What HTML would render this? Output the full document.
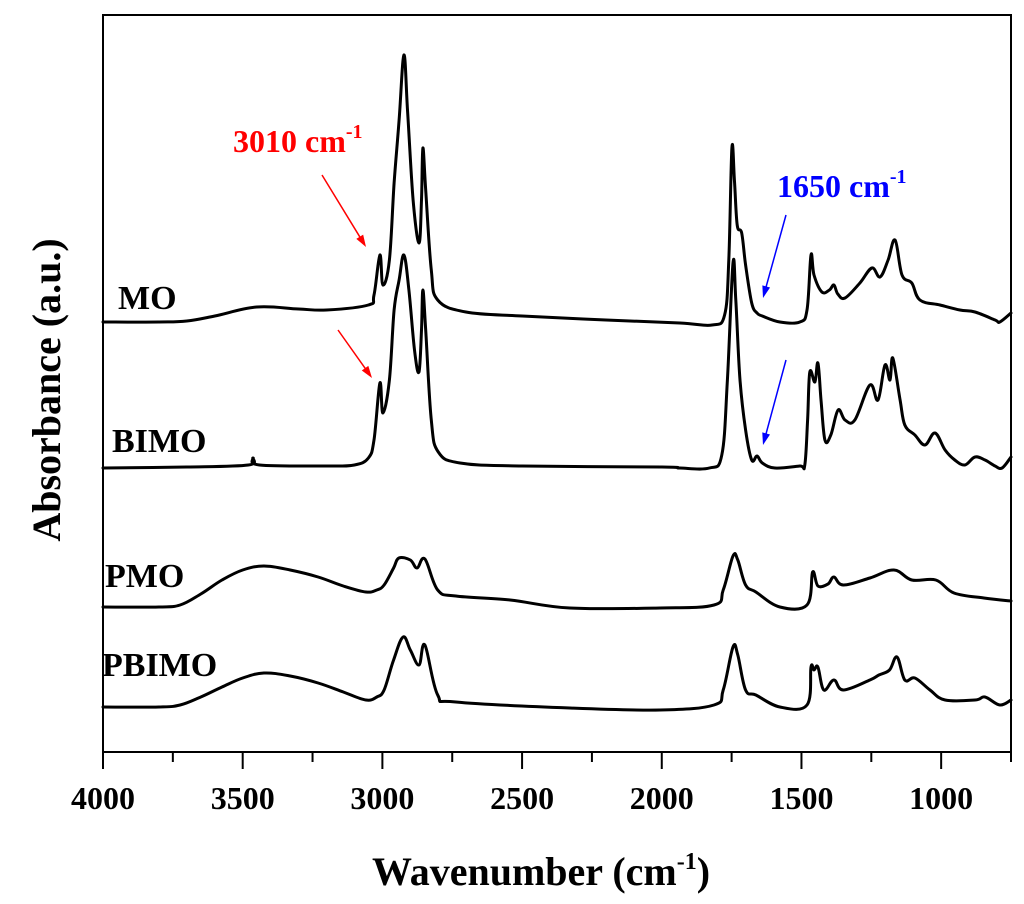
<!DOCTYPE html>
<html><head><meta charset="utf-8"><style>
html,body{margin:0;padding:0;background:#fff}
svg{display:block}
text{font-family:"Liberation Serif",serif;font-weight:bold}
</style></head><body>
<svg id="chart" width="1024" height="904" viewBox="0 0 1024 904" xmlns="http://www.w3.org/2000/svg">
<g id="axes"></g>
<g id="series"></g>
<g id="labels"></g>
</svg>
<script>
const xTicks = [4000, 3500, 3000, 2500, 2000, 1500, 1000];
const xTickLabels = ["4000", "3500", "3000", "2500", "2000", "1500", "1000"];
const seriesNames = ["MO", "BIMO", "PMO", "PBIMO"];
const moW = [4000,3800,3700,3600,3450,3300,3200,3050,3030,3009,2998,2975,2958,2940,2923,2910,2890,2869,2860,2855,2845,2825,2802,2701,2500,2200,1935,1820,1775,1760,1749,1740,1730,1714,1700,1678,1659,1640,1577,1506,1480,1466,1455,1427,1400,1384,1370,1344,1291,1248,1219,1190,1165,1140,1105,1076,1004,933,879,807,790,750];
const moA = [430,430,431,436,445,443,442,447,457,497,467,492,569,632,697,642,552,509,552,604,562,482,452,440,436,432,429,427,437,492,604,572,527,519,487,449,439,436,430,430,442,497,477,460,462,467,458,454,469,484,475,492,512,477,469,452,447,442,440,432,430,439];
const bimoW = [4000,3700,3480,3463,3440,3200,3100,3050,3030,3009,2998,2975,2958,2940,2923,2905,2885,2869,2860,2855,2845,2825,2800,2722,2500,2000,1935,1830,1785,1765,1745,1735,1720,1700,1678,1659,1640,1595,1506,1488,1478,1470,1452,1441,1430,1416,1395,1369,1344,1309,1255,1226,1201,1183,1173,1147,1130,1094,1058,1022,986,951,915,879,843,807,782,750];
const bimoA = [284,285,287,294,287,286,287,294,312,369,339,372,442,472,497,462,402,380,422,462,422,332,300,289,286,285,284,284,297,372,489,452,372,322,292,296,289,284,286,287,332,380,370,389,352,312,317,342,332,332,367,352,387,372,394,352,327,317,307,319,302,292,287,295,292,286,284,295];
const pmoW = [4000,3800,3724,3650,3574,3500,3424,3330,3230,3140,3059,3020,2994,2960,2941,2900,2876,2848,2802,2737,2543,2329,2006,1813,1780,1745,1728,1700,1663,1577,1480,1460,1441,1405,1384,1350,1255,1169,1105,1019,954,847,750];
const pmoA = [145,145,147,158,172,182,186,182,175,166,160,162,167,184,194,192,184,193,162,156,152,144,144,147,162,196,192,167,160,145,147,180,166,168,175,167,174,182,172,172,159,154,151];
const pbimoW = [4000,3800,3724,3650,3574,3500,3424,3330,3230,3140,3059,3020,2994,2960,2926,2900,2869,2848,2802,2737,2329,2006,1813,1780,1745,1728,1700,1663,1577,1480,1466,1455,1441,1420,1384,1350,1255,1223,1185,1158,1130,1094,1040,986,879,843,790,750];
const pbimoA = [45,45,47,55,65,74,79,76,69,60,52,55,62,92,115,102,87,107,57,50,44,42,47,62,105,97,62,57,45,47,85,82,85,62,72,62,72,77,82,95,72,74,62,52,52,55,47,52];

const NS = "http://www.w3.org/2000/svg";
const L = 103, R = 1011, T = 15, B = 752;
const xMin = 750, xMax = 4000, yMin = 0, yMax = 737;
function xs(w){ return L + (xMax - w) / (xMax - xMin) * (R - L); }
function ys(v){ return B - (v - yMin) / (yMax - yMin) * (B - T); }
function mk(tag, attrs, parent){ const e = document.createElementNS(NS, tag); for (const k in attrs) e.setAttribute(k, attrs[k]); parent.appendChild(e); return e; }
function smoothPath(P){
  let d = 'M' + P[0][0].toFixed(1) + ',' + P[0][1].toFixed(1);
  for (let i = 0; i < P.length - 1; i++) {
    const p0 = P[i-1] || P[i], p1 = P[i], p2 = P[i+1], p3 = P[i+2] || P[i+1];
    const t = 0.18;
    const c1x = p1[0] + (p2[0]-p0[0])*t, c1y = p1[1] + (p2[1]-p0[1])*t;
    const c2x = p2[0] - (p3[0]-p1[0])*t, c2y = p2[1] - (p3[1]-p1[1])*t;
    d += ' C' + c1x.toFixed(1)+','+c1y.toFixed(1)+' '+c2x.toFixed(1)+','+c2y.toFixed(1)+' '+p2[0].toFixed(1)+','+p2[1].toFixed(1);
  }
  return d;
}

const axes = document.getElementById('axes');
const frame = mk('rect', {x:L, y:T, width:R-L, height:B-T, fill:'none', stroke:'#000', 'stroke-width':2}, axes);


for (let w = 4000; w >= 750; w -= 250) {
  const major = (w % 500 === 0);
  const t = mk('line', {x1:xs(w), x2:xs(w), y1:B, y2:B + (major ? 17 : 10), stroke:'#000', 'stroke-width':2}, axes);
  
  
}
xTicks.forEach((w, i) => {
  const t = mk('text', {x:xs(w), y:809, 'text-anchor':'middle', 'font-size':32}, axes);
  t.textContent = xTickLabels[i];
  
  
});

const sg = document.getElementById('series');
const allW = [moW, bimoW, pmoW, pbimoW];
const allA = [moA, bimoA, pmoA, pbimoA];
allW.forEach((W, si) => {
  const P = W.map((w, i) => [xs(w), ys(allA[si][i])]);
  const p = mk('path', {d:smoothPath(P), fill:'none', stroke:'#000', 'stroke-width':3, 'stroke-linejoin':'round', 'stroke-linecap':'round'}, sg);
  
  
});
</script>
<script>
(function(){
const NS = "http://www.w3.org/2000/svg";
const lg = document.getElementById('labels');
function mk(tag, attrs){ const e = document.createElementNS(NS, tag); for (const k in attrs) e.setAttribute(k, attrs[k]); lg.appendChild(e); return e; }
const names = [["MO",118,309,"label-mo"],["BIMO",112,452,"label-bimo"],["PMO",105,587,"label-pmo"],["PBIMO",102,676,"label-pbimo"]];
names.forEach(n => {
  const t = mk('text', {x:n[1], y:n[2], 'font-size':34});
  t.textContent = n[0];
  
  
});
const a1 = mk('text', {x:233, y:152, 'font-size':32, fill:'#ff0000'});
a1.innerHTML = '3010 cm<tspan dy="-14" font-size="20">-1</tspan>';


const a2 = mk('text', {x:777, y:197, 'font-size':32, fill:'#0000ff'});
a2.innerHTML = '1650 cm<tspan dy="-14" font-size="20">-1</tspan>';


const arrows = [[322,175,366,247,'#ff0000','arrow-3010-mo'],[338,330,372,378,'#ff0000','arrow-3010-bimo'],[786,215,763,298,'#0000ff','arrow-1650-mo'],[786,360,763,445,'#0000ff','arrow-1650-bimo']];
arrows.forEach(a => {
  const g = mk('g', {});
  
  
  const ln = document.createElementNS(NS, 'line');
  const dx = a[2]-a[0], dy = a[3]-a[1], len = Math.hypot(dx, dy), ux = dx/len, uy = dy/len;
  ln.setAttribute('x1', a[0]); ln.setAttribute('y1', a[1]);
  ln.setAttribute('x2', a[2]-ux*8); ln.setAttribute('y2', a[3]-uy*8);
  ln.setAttribute('stroke', a[4]); ln.setAttribute('stroke-width', 1.5);
  g.appendChild(ln);
  const hd = document.createElementNS(NS, 'polygon');
  const bx = a[2]-ux*12, by = a[3]-uy*12;
  hd.setAttribute('points', a[2]+','+a[3]+' '+(bx-uy*4)+','+(by+ux*4)+' '+(bx+uy*4)+','+(by-ux*4));
  hd.setAttribute('fill', a[4]);
  g.appendChild(hd);
});
const xt = mk('text', {x:541, y:885, 'text-anchor':'middle', 'font-size':40});
xt.innerHTML = 'Wavenumber (cm<tspan dy="-16" font-size="24">-1</tspan><tspan dy="16">)</tspan>';


const yt = mk('text', {x:0, y:0, 'text-anchor':'middle', 'font-size':40, transform:'translate(60,390) rotate(-90)'});
yt.textContent = 'Absorbance (a.u.)';


})();
</script>
</body></html>
